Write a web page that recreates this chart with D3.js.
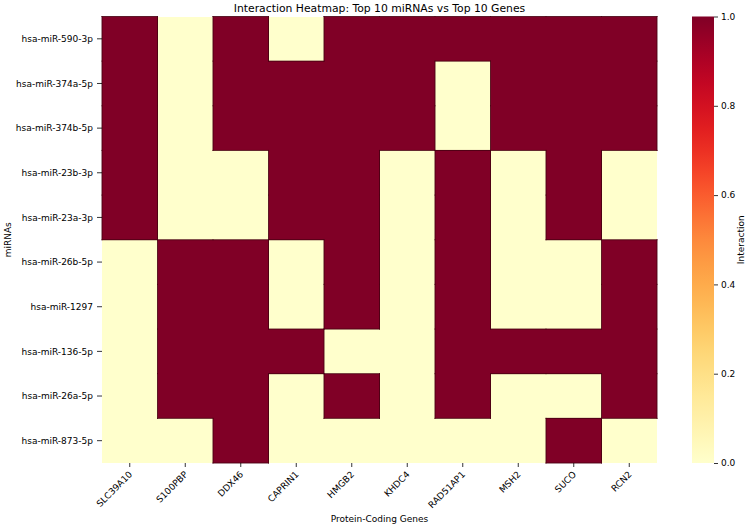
<!DOCTYPE html>
<html><head><meta charset="utf-8">
<script src="https://cdn.jsdelivr.net/npm/d3@7"></script>
<style>body{margin:0;background:#fff}text{font-family:"DejaVu Sans",sans-serif;fill:#000}</style>
</head><body><svg id="c" width="750" height="527"></svg>
<script>
const genes = ["SLC39A10","S100PBP","DDX46","CAPRIN1","HMGB2","KHDC4","RAD51AP1","MSH2","SUCO","RCN2"];
const mirnas = ["hsa-miR-590-3p","hsa-miR-374a-5p","hsa-miR-374b-5p","hsa-miR-23b-3p","hsa-miR-23a-3p","hsa-miR-26b-5p","hsa-miR-1297","hsa-miR-136-5p","hsa-miR-26a-5p","hsa-miR-873-5p"];
const interactions = [
  [1,0,1,0,1,1,1,1,1,1],
  [1,0,1,1,1,1,0,1,1,1],
  [1,0,1,1,1,1,0,1,1,1],
  [1,0,0,1,1,0,1,0,1,0],
  [1,0,0,1,1,0,1,0,1,0],
  [0,1,1,0,1,0,1,0,0,1],
  [0,1,1,0,1,0,1,0,0,1],
  [0,1,1,1,0,0,1,1,1,1],
  [0,1,1,0,1,0,1,0,0,1],
  [0,0,1,0,0,0,0,0,1,0]
];
const cbTicks = [0,0.2,0.4,0.6,0.8,1.0];

const svg = d3.select("#c");
const L=102, R=657, T=16.5, B=463;
const x = d3.scaleBand().domain(genes).range([L,R]);
const y = d3.scaleBand().domain(mirnas).range([T,B]);
const color = v => d3.interpolateYlOrRd(v);
const fs = 9;

const cells = [];
interactions.forEach((row,i)=>row.forEach((v,j)=>cells.push({m:mirnas[i],g:genes[j],v,i,j})));
svg.append("g").selectAll("rect").data(cells).join("rect")
  .attr("x",d=>x(d.g)).attr("y",d=>y(d.m))
  .attr("width",x.bandwidth()+0.3).attr("height",y.bandwidth()+0.3)
  .attr("fill",d=>color(d.v)).attr("shape-rendering","crispEdges");

// edges around dark regions
const segs=[];
const val=(i,j)=> (i<0||j<0||i>=mirnas.length||j>=genes.length)?0:interactions[i][j];
cells.forEach(d=>{
  if(!d.v) return;
  const x0=x(d.g), x1=x0+x.bandwidth(), y0=y(d.m), y1=y0+y.bandwidth();
  if(!val(d.i-1,d.j)) segs.push([x0,y0,x1,y0]);
  if(!val(d.i+1,d.j)) segs.push([x0,y1,x1,y1]);
  if(!val(d.i,d.j-1)) segs.push([x0,y0,x0,y1]);
  if(!val(d.i,d.j+1)) segs.push([x1,y0,x1,y1]);
});
svg.append("g").selectAll("line").data(segs).join("line")
  .attr("x1",s=>s[0]).attr("y1",s=>s[1]).attr("x2",s=>s[2]).attr("y2",s=>s[3])
  .attr("stroke","#4a0012").attr("stroke-width",0.9).attr("stroke-linecap","square");

// x axis
const xa = svg.append("g");
genes.forEach(g=>{
  const cx = x(g)+x.bandwidth()/2;
  xa.append("line").attr("x1",cx).attr("x2",cx).attr("y1",B).attr("y2",B+4).attr("stroke","#000").attr("stroke-width",0.8);
  xa.append("text").attr("transform",`translate(${cx+3},${B+12}) rotate(-45)`)
    .attr("text-anchor","end").attr("font-size",fs).text(g);
});
// y axis
const ya = svg.append("g");
mirnas.forEach(m=>{
  const cy = y(m)+y.bandwidth()/2;
  ya.append("line").attr("x1",L-5).attr("x2",L).attr("y1",cy).attr("y2",cy).attr("stroke","#000").attr("stroke-width",0.8);
  ya.append("text").attr("x",L-9).attr("y",cy).attr("dy","0.35em").attr("text-anchor","end").attr("font-size",fs).text(m);
});

svg.append("text").attr("x",(L+R)/2).attr("y",12).attr("text-anchor","middle").attr("font-size",10.8).text("Interaction Heatmap: Top 10 miRNAs vs Top 10 Genes");
svg.append("text").attr("x",(L+R)/2).attr("y",522).attr("text-anchor","middle").attr("font-size",fs).text("Protein-Coding Genes");
svg.append("text").attr("transform",`translate(11,${(T+B)/2}) rotate(-90)`).attr("text-anchor","middle").attr("font-size",fs).text("miRNAs");

// colorbar
const cbx=692, cbw=22;
const cy = d3.scaleLinear().domain([0,1]).range([B,T]);
const defs = svg.append("defs");
const grad = defs.append("linearGradient").attr("id","g").attr("x1",0).attr("x2",0).attr("y1",1).attr("y2",0);
d3.range(0,1.0001,0.05).forEach(t=>grad.append("stop").attr("offset",t).attr("stop-color",color(t)));
svg.append("rect").attr("x",cbx).attr("y",T).attr("width",cbw).attr("height",B-T).attr("fill","url(#g)");
const cba = svg.append("g").attr("transform",`translate(${cbx+cbw},0)`)
  .call(d3.axisRight(cy).tickValues(cbTicks).tickFormat(d3.format(".1f")).tickSize(4).tickPadding(3));
cba.select(".domain").remove();
cba.selectAll("text").attr("font-size",fs).attr("font-family","DejaVu Sans");
cba.selectAll("line").attr("stroke","#000").attr("stroke-width",0.8);
svg.append("text").attr("transform",`translate(744,${(T+B)/2}) rotate(-90)`).attr("text-anchor","middle").attr("font-size",fs).text("Interaction");
</script></body></html>
